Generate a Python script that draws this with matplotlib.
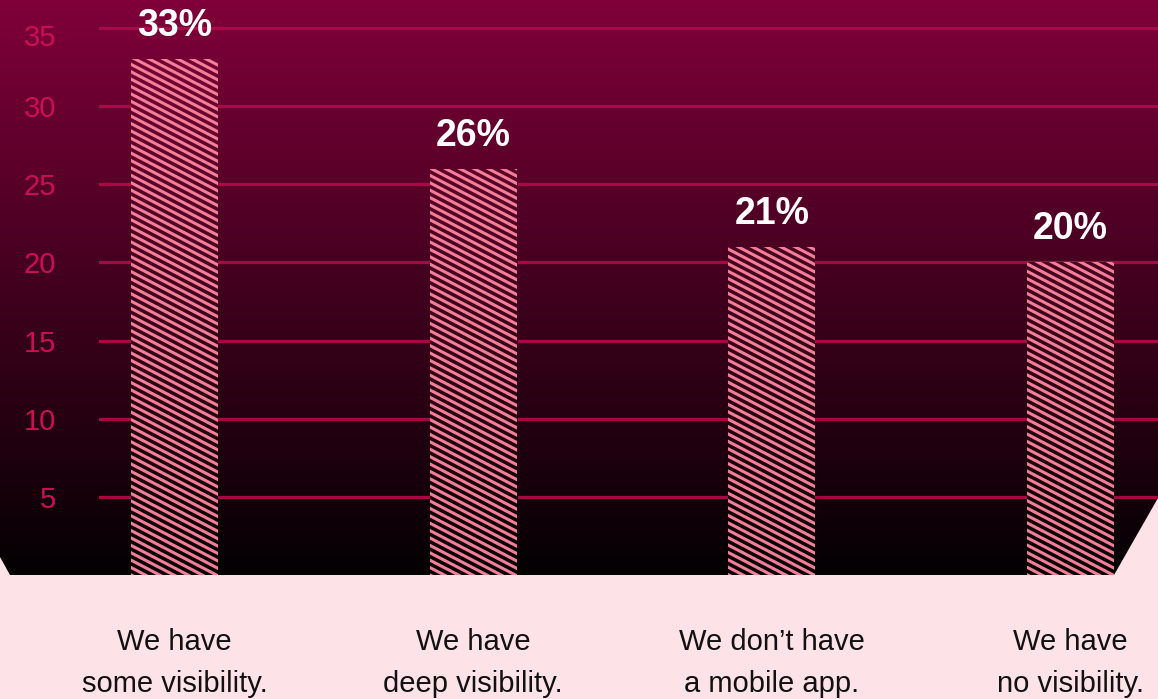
import numpy as np
import matplotlib
matplotlib.use("Agg")
import matplotlib.pyplot as plt
from matplotlib.patches import Polygon
from matplotlib.collections import LineCollection
from matplotlib.transforms import ScaledTranslation

# ---- data ----
categories = ["We have\nsome visibility.", "We have\ndeep visibility.",
              "We don\u2019t have\na mobile app.", "We have\nno visibility."]
values = [33, 26, 21, 20]
value_labels = ["33%", "26%", "21%", "20%"]
yticks = [5, 10, 15, 20, 25, 30, 35]

# ---- style ----
W, H, DPI = 1158, 699, 100
PINK_BG = "#FDE2E7"
TOP_RGB = np.array([128, 0, 58]) / 255
BOT_RGB = np.array([3, 0, 2]) / 255
GRID_C = "#B8084A"
TICK_C = "#CC0E55"
HATCH_C = "#F47E98"
FONT = "Liberation Sans"

PANEL_BOTTOM = 575          # px from top where value 0 sits
PX_PER_UNIT = 15.63
AX_LEFT_PX = 99
BAR_CENTER0 = 174.5
BAR_STEP = 298.67
BAR_W_PX = 87

fig = plt.figure(figsize=(W / DPI, H / DPI), dpi=DPI, facecolor=PINK_BG)

# vertical gradient image (top -> bottom)
n = 512
t = np.linspace(0, 1, n)[:, None]
grad = (TOP_RGB[None, :] * (1 - t) + BOT_RGB[None, :] * t)[:, None, :]

# ---- background panel with cut corners ----
bg = fig.add_axes([0, 0, 1, 1])
bg.set_xlim(0, W)
bg.set_ylim(H, 0)
bg.axis("off")
panel = Polygon([(0, 0), (W, 0), (W, 498), (1114, PANEL_BOTTOM),
                 (10, PANEL_BOTTOM), (0, 557)], closed=True,
                facecolor="none", edgecolor="none", transform=bg.transData)
bg.add_patch(panel)
img = bg.imshow(grad, extent=[0, W, PANEL_BOTTOM, 0], aspect="auto",
                interpolation="bilinear")
img.set_clip_path(panel)

# ---- main chart axes ----
ax_h = PANEL_BOTTOM / H
ax = fig.add_axes([AX_LEFT_PX / W, 1 - ax_h, (W - AX_LEFT_PX) / W, ax_h])
ax.patch.set_alpha(0)
ytop = PANEL_BOTTOM / PX_PER_UNIT
x0 = (AX_LEFT_PX - BAR_CENTER0) / BAR_STEP
x1 = (W - BAR_CENTER0) / BAR_STEP
ax.set_xlim(x0, x1)
ax.set_ylim(0, ytop)
for s in ax.spines.values():
    s.set_visible(False)

ax.set_yticks(yticks)
ax.set_yticklabels([str(v) for v in yticks], color=TICK_C,
                   fontsize=21, family=FONT)
ax.tick_params(axis="y", length=0, pad=31)
ax.yaxis.grid(True, color=GRID_C, linewidth=2.3, alpha=0.9)
ax.set_axisbelow(True)

# nudge the top tick label down so it stays inside the panel
top_lab = ax.get_yticklabels()[-1]
top_lab.set_transform(top_lab.get_transform() +
                      ScaledTranslation(0, -7 / DPI, fig.dpi_scale_trans))

xs = np.arange(len(values))
ax.set_xticks(xs)
ax.set_xticklabels(categories, fontsize=21, family=FONT, color="#111111",
                   linespacing=1.66)
ax.tick_params(axis="x", length=0, pad=38)

bar_w = BAR_W_PX / BAR_STEP
bars = ax.bar(xs, values, width=bar_w, color="none", edgecolor="none",
              zorder=3)

# stripe texture inside each bar (drawn in inches, clipped to bar)
slope = 0.52
period = 7.4 / DPI
span = W / DPI + 2
segs = []
for k in range(-200, 200):
    y0 = k * period
    segs.append([(-1, y0), (span - 1, y0 - slope * span)])

for b, lab in zip(bars, value_labels):
    fill = ax.imshow(grad, extent=[x0, x1, 0, ytop], aspect="auto",
                     interpolation="bilinear", zorder=3)
    fill.set_clip_path(b)
    lc = LineCollection(segs, colors=HATCH_C, linewidths=2.2,
                        transform=fig.dpi_scale_trans, zorder=4)
    ax.add_collection(lc, autolim=False)
    lc.set_clip_path(b)
    ax.annotate(lab, (b.get_x() + b.get_width() / 2, b.get_height()),
                xytext=(0, 16.5), textcoords="offset points",
                ha="center", va="baseline", color="white",
                fontsize=27, fontweight="bold", family=FONT, zorder=5)

ax.set_xlim(x0, x1)
ax.set_ylim(0, ytop)

fig.savefig("out.png", dpi=DPI, facecolor=PINK_BG)
